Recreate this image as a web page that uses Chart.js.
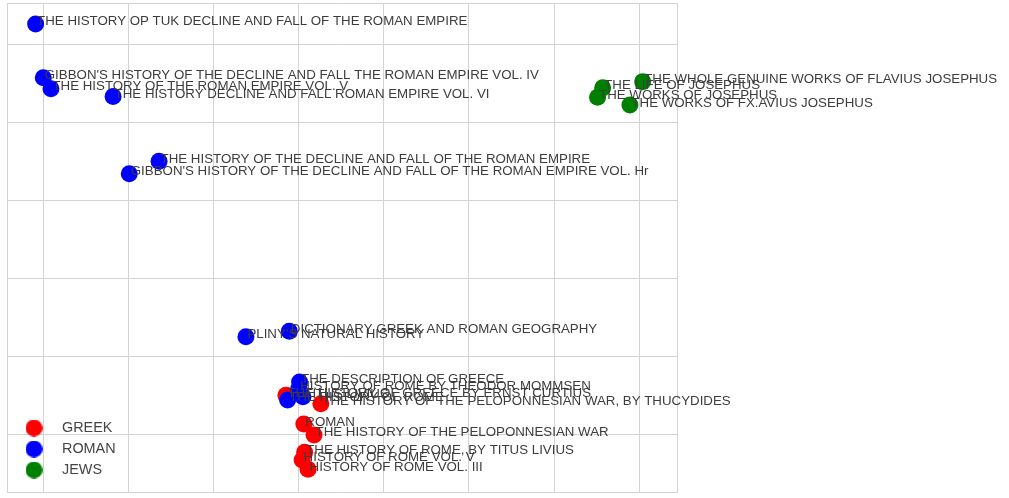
<!DOCTYPE html>
<html><head><meta charset="utf-8">
<script src="https://cdn.jsdelivr.net/npm/chart.js@4/dist/chart.umd.min.js"></script>
<style>html,body{margin:0;padding:0;background:#fff}canvas{display:block}</style>
</head><body>
<canvas id="c" width="1009" height="498"></canvas>
<script>
// ---- data ----
const categories = ['GREEK', 'ROMAN', 'JEWS'];
const colors = ['#ff0000', '#0000ff', '#008000'];

const greekX = [2.85, 3.26, 3.06, 3.18, 3.07, 3.04, 3.11];
const greekY = [0.51, 0.40, 0.14, 0.00, -0.22, -0.32, -0.44];
const greekTitles = [
  "THE HISTORY OF GREECE BY ERNST CURTIUS",
  "THE HISTORY OF THE PELOPONNESIAN WAR, BY THUCYDIDES",
  "ROMAN",
  "THE HISTORY OF THE PELOPONNESIAN WAR",
  "THE HISTORY OF ROME, BY TITUS LIVIUS",
  "HISTORY OF ROME VOL. V",
  "HISTORY OF ROME VOL. III"
];

const romanX = [-0.09, 0.00, 0.09, 0.82, 1.36, 1.01, 2.38, 2.89, 3.01, 3.00, 2.87, 3.05];
const romanY = [5.27, 4.58, 4.44, 4.34, 3.51, 3.35, 1.26, 1.33, 0.68, 0.59, 0.45, 0.49];
const romanTitles = [
  "THE HISTORY OP TUK DECLINE AND FALL OF THE ROMAN EMPIRE",
  "GIBBON'S HISTORY OF THE DECLINE AND FALL THE ROMAN EMPIRE VOL. IV",
  "THE HISTORY OF THE ROMAN EMPIRE VOL. V",
  "THE HISTORY DECLINE AND FALL ROMAN EMPIRE VOL. VI",
  "THE HISTORY OF THE DECLINE AND FALL OF THE ROMAN EMPIRE",
  "GIBBON'S HISTORY OF THE DECLINE AND FALL OF THE ROMAN EMPIRE VOL. Hr",
  "PLINY'S NATURAL HISTORY",
  "DICTIONARY GREEK AND ROMAN GEOGRAPHY",
  "THE DESCRIPTION OF GREECE",
  "HISTORY OF ROME BY THEODOR MOMMSEN",
  "THE HISTORY OF ROME",
  "TITUS LIVIUS"
];

const jewsX = [7.04, 6.57, 6.51, 6.89];
const jewsY = [4.53, 4.45, 4.33, 4.23];
const jewsTitles = [
  "THE WHOLE GENUINE WORKS OF FLAVIUS JOSEPHUS",
  "THE LIFE OF JOSEPHUS",
  "THE WORKS OF JOSEPHUS",
  "THE WORKS OF FX.AVIUS JOSEPHUS"
];

// grid positions (no tick labels shown)
const xGrid = [0, 1, 2, 3, 4, 5, 6, 7];
const yGrid = [0, 1, 2, 3, 4, 5];
const X_MIN = -0.426, X_MAX = 7.443;
const Y_MIN = -0.731, Y_MAX = 5.538;

// ---- helpers ----
const GRID = '#d3d3d3';
const pts = (xs, ys) => xs.map((x, i) => ({x: x, y: ys[i]}));
function dot(color) {
  const c = document.createElement('canvas');
  c.width = 17; c.height = 17;
  const g = c.getContext('2d');
  g.fillStyle = color;
  g.beginPath(); g.arc(8.5, 8.5, 8.5, 0, Math.PI * 2); g.fill();
  return c;
}

const labelPlugin = {
  id: 'pointTitles',
  afterDatasetsDraw(chart) {
    const ctx = chart.ctx;
    ctx.save();
    ctx.font = '13.3px "Liberation Sans", Arial, sans-serif';
    ctx.fillStyle = '#3c3c3c';
    ctx.textAlign = 'left';
    ctx.textBaseline = 'alphabetic';
    chart.data.datasets.forEach((ds, i) => {
      const meta = chart.getDatasetMeta(i);
      meta.data.forEach((el, j) => {
        ctx.fillText(ds.titles[j], el.x + 1.5, el.y + 1.5);
      });
    });
    ctx.restore();
  }
};

const legendPlace = {
  id: 'legendPlace',
  afterLayout(chart) {
    const lg = chart.legend;
    if (!lg) return;
    lg.left = 6.6; lg.top = 414.2;
    lg.right = lg.left + 200; lg.bottom = lg.top + 100;
    lg.width = 200; lg.height = 100;
  }
};

new Chart(document.getElementById('c'), {
  type: 'scatter',
  data: {
    datasets: [
      {label: categories[0], data: pts(greekX, greekY), titles: greekTitles, backgroundColor: colors[0], order: 3},
      {label: categories[1], data: pts(romanX, romanY), titles: romanTitles, backgroundColor: colors[1], order: 2},
      {label: categories[2], data: pts(jewsX, jewsY), titles: jewsTitles, backgroundColor: colors[2], order: 1}
    ]
  },
  options: {
    responsive: false,
    devicePixelRatio: 1,
    animation: false,
    layout: {autoPadding: false, padding: {left: 7, top: 3, right: 332, bottom: 6}},
    elements: {point: {radius: 8.5, hoverRadius: 8.5, borderWidth: 0, pointStyle: 'circle'}},
    scales: {
      x: {
        type: 'linear', min: X_MIN, max: X_MAX,
        afterBuildTicks: ax => { ax.ticks = [X_MIN, ...xGrid, X_MAX].map(v => ({value: v})); },
        ticks: {display: false},
        grid: {color: GRID, lineWidth: 1, drawTicks: false},
        border: {color: GRID, width: 1}
      },
      y: {
        type: 'linear', min: Y_MIN, max: Y_MAX,
        afterBuildTicks: ax => { ax.ticks = [Y_MIN, ...yGrid, Y_MAX].map(v => ({value: v})); },
        ticks: {display: false},
        grid: {color: GRID, lineWidth: 1, drawTicks: false},
        border: {color: GRID, width: 1}
      }
    },
    plugins: {
      tooltip: {enabled: false},
      legend: {
        position: 'chartArea',
        align: 'start',
        labels: {
          usePointStyle: true,
          pointStyleWidth: 41.6,
          padding: 6.6,
          color: '#444',
          font: {family: '"Liberation Sans", Arial, sans-serif', size: 14.4},
          generateLabels: chart => chart.data.datasets.map((ds, i) => ({
            text: ds.label,
            fillStyle: ds.backgroundColor,
            strokeStyle: ds.backgroundColor,
            lineWidth: 0,
            pointStyle: dot(ds.backgroundColor),
            fontColor: '#444',
            hidden: !chart.isDatasetVisible(i),
            datasetIndex: i
          }))
        }
      }
    }
  },
  plugins: [labelPlugin, legendPlace]
});
</script>
</body></html>
